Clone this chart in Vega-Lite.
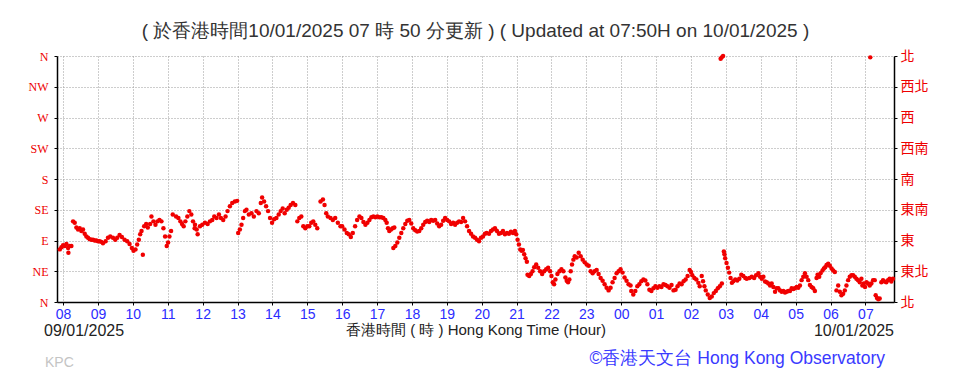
{
  "$schema": "https://vega.github.io/schema/vega-lite/v6.json",
  "width": 837,
  "height": 246,
  "autosize": "none",
  "padding": {"left": 57, "top": 56, "right": 70, "bottom": 82},
  "background": "white",
  "config": {"view": {"stroke": null}},
  "title": {
    "text": "( 於香港時間10/01/2025 07 時 50 分更新 ) ( Updated at 07:50H on 10/01/2025 )",
    "font": "Liberation Sans",
    "fontSize": 19,
    "fontWeight": "normal",
    "color": "#333333",
    "anchor": "middle",
    "offset": 8
  },
  "datasets": {
    "wind": [
      {"h":7.905,"d":77},{"h":7.952,"d":80},{"h":8.0,"d":83},{"h":8.048,"d":82},{"h":8.095,"d":85},{"h":8.143,"d":79},{"h":8.152,"d":72},{"h":8.19,"d":82},{"h":8.238,"d":82},
      {"h":8.286,"d":118},{"h":8.333,"d":116},{"h":8.381,"d":109},{"h":8.429,"d":106},{"h":8.476,"d":108},{"h":8.524,"d":104},{"h":8.571,"d":106},{"h":8.619,"d":100},{"h":8.667,"d":96},{"h":8.714,"d":94},{"h":8.762,"d":92},{"h":8.81,"d":91},{"h":8.857,"d":91},{"h":8.905,"d":90},{"h":8.952,"d":90},{"h":9.0,"d":89},{"h":9.048,"d":89},{"h":9.095,"d":88},{"h":9.143,"d":86},{"h":9.219,"d":89},{"h":9.286,"d":94},{"h":9.352,"d":96},{"h":9.429,"d":94},{"h":9.495,"d":91},{"h":9.552,"d":94},{"h":9.619,"d":98},{"h":9.686,"d":95},{"h":9.762,"d":91},{"h":9.838,"d":89},{"h":9.905,"d":85},{"h":9.971,"d":79},{"h":10.019,"d":75},{"h":10.076,"d":77},{"h":10.124,"d":84},{"h":10.171,"d":91},{"h":10.21,"d":99},{"h":10.248,"d":104},{"h":10.286,"d":69},{"h":10.324,"d":111},{"h":10.381,"d":114},{"h":10.429,"d":109},{"h":10.495,"d":114},{"h":10.533,"d":125},{"h":10.59,"d":118},{"h":10.648,"d":113},{"h":10.705,"d":118},{"h":10.762,"d":120},{"h":10.819,"d":118},{"h":10.876,"d":108},{"h":10.924,"d":96},{"h":10.971,"d":82},{"h":11.01,"d":87},{"h":11.048,"d":96},{"h":11.095,"d":104},{"h":11.143,"d":128},{"h":11.238,"d":125},{"h":11.305,"d":123},{"h":11.362,"d":118},{"h":11.41,"d":114},{"h":11.457,"d":111},{"h":11.505,"d":118},{"h":11.562,"d":125},{"h":11.619,"d":133},{"h":11.676,"d":128},{"h":11.724,"d":118},{"h":11.771,"d":108},
      {"h":11.781,"d":113},{"h":11.829,"d":106},{"h":11.857,"d":99},{"h":11.924,"d":111},{"h":11.99,"d":113},{"h":12.067,"d":116},{"h":12.143,"d":114},{"h":12.21,"d":118},{"h":12.276,"d":120},{"h":12.333,"d":125},{"h":12.4,"d":123},{"h":12.467,"d":128},{"h":12.524,"d":123},{"h":12.59,"d":120},{"h":12.657,"d":125},{"h":12.714,"d":133},{"h":12.781,"d":140},{"h":12.848,"d":145},{"h":12.924,"d":147},{"h":12.99,"d":148},{"h":13.019,"d":101},{"h":13.067,"d":106},{"h":13.114,"d":113},{"h":13.162,"d":123},{"h":13.21,"d":133},{"h":13.257,"d":135},{"h":13.324,"d":128},{"h":13.4,"d":130},{"h":13.467,"d":125},{"h":13.543,"d":133},{"h":13.61,"d":130},{"h":13.667,"d":145},{"h":13.705,"d":153},{"h":13.762,"d":147},{"h":13.819,"d":140},{"h":13.876,"d":133},{"h":13.933,"d":123},{"h":13.99,"d":116},{"h":14.048,"d":121},{"h":14.114,"d":123},{"h":14.181,"d":128},{"h":14.238,"d":133},{"h":14.295,"d":137},{"h":14.352,"d":130},{"h":14.41,"d":135},{"h":14.467,"d":138},{"h":14.524,"d":142},{"h":14.59,"d":145},{"h":14.657,"d":142},{"h":14.714,"d":118},{"h":14.771,"d":123},{"h":14.829,"d":125},{"h":14.886,"d":111},{"h":14.943,"d":108},{"h":15.0,"d":111},{"h":15.057,"d":111},{"h":15.114,"d":116},{"h":15.171,"d":118},{"h":15.229,"d":113},{"h":15.286,"d":108},{"h":15.38,"d":147},{"h":15.448,"d":150},{"h":15.495,"d":142},{"h":15.543,"d":130},{"h":15.59,"d":125},{"h":15.667,"d":123},{"h":15.733,"d":120},{"h":15.8,"d":123},{"h":15.876,"d":116},{"h":15.952,"d":111},
      {"h":16.0,"d":111},{"h":16.067,"d":106},{"h":16.133,"d":101},{"h":16.19,"d":99},{"h":16.248,"d":95},{"h":16.305,"d":101},{"h":16.371,"d":111},{"h":16.429,"d":120},{"h":16.495,"d":125},{"h":16.552,"d":123},{"h":16.61,"d":117},{"h":16.667,"d":113},{"h":16.724,"d":116},{"h":16.781,"d":120},{"h":16.838,"d":124},{"h":16.895,"d":125},{"h":16.952,"d":124},{"h":17.01,"d":125},{"h":17.067,"d":124},{"h":17.124,"d":124},{"h":17.181,"d":123},{"h":17.238,"d":120},{"h":17.276,"d":116},{"h":17.314,"d":108},{"h":17.352,"d":104},{"h":17.4,"d":106},{"h":17.448,"d":108},{"h":17.495,"d":109},{"h":17.467,"d":79},{"h":17.524,"d":82},{"h":17.581,"d":87},{"h":17.638,"d":94},{"h":17.695,"d":101},{"h":17.752,"d":108},{"h":17.81,"d":114},{"h":17.867,"d":119},{"h":17.924,"d":120},{"h":17.981,"d":115},{"h":18.038,"d":108},{"h":18.095,"d":105},{"h":18.152,"d":103},{"h":18.21,"d":104},{"h":18.267,"d":108},{"h":18.324,"d":113},{"h":18.381,"d":117},{"h":18.438,"d":119},{"h":18.495,"d":117},{"h":18.552,"d":120},{"h":18.61,"d":119},{"h":18.667,"d":120},{"h":18.724,"d":115},{"h":18.781,"d":111},{"h":18.838,"d":113},{"h":18.895,"d":119},{"h":18.952,"d":123},{"h":19.01,"d":120},{"h":19.067,"d":118},{"h":19.124,"d":114},{"h":19.181,"d":116},{"h":19.238,"d":113},{"h":19.295,"d":116},{"h":19.352,"d":118},{"h":19.41,"d":117},{"h":19.467,"d":123},{"h":19.524,"d":118},{"h":19.581,"d":111},{"h":19.638,"d":104},{"h":19.695,"d":100},{"h":19.752,"d":96},{"h":19.81,"d":94},{"h":19.867,"d":91},{"h":19.924,"d":89},{"h":19.981,"d":94},{"h":20.038,"d":96},{"h":20.095,"d":100},
      {"h":20.143,"d":101},{"h":20.21,"d":100},{"h":20.267,"d":104},{"h":20.324,"d":106},{"h":20.381,"d":108},{"h":20.438,"d":104},{"h":20.495,"d":100},{"h":20.552,"d":101},{"h":20.61,"d":104},{"h":20.667,"d":99},{"h":20.724,"d":101},{"h":20.781,"d":100},{"h":20.838,"d":103},{"h":20.895,"d":101},{"h":20.952,"d":104},{"h":20.99,"d":99},{"h":21.029,"d":91},{"h":21.067,"d":84},{"h":21.105,"d":77},{"h":21.143,"d":75},{"h":21.181,"d":76},{"h":21.219,"d":70},{"h":21.257,"d":64},{"h":21.295,"d":59},{"h":21.314,"d":40},{"h":21.362,"d":38},{"h":21.41,"d":41},{"h":21.457,"d":45},{"h":21.505,"d":51},{"h":21.562,"d":55},{"h":21.619,"d":50},{"h":21.676,"d":45},{"h":21.733,"d":41},{"h":21.79,"d":45},{"h":21.848,"d":48},{"h":21.905,"d":50},{"h":21.962,"d":45},{"h":22.0,"d":38},{"h":22.038,"d":29},{"h":22.076,"d":26},{"h":22.114,"d":33},{"h":22.171,"d":41},{"h":22.229,"d":45},{"h":22.286,"d":48},{"h":22.343,"d":45},{"h":22.4,"d":36},{"h":22.438,"d":31},{"h":22.476,"d":29},{"h":22.514,"d":33},{"h":22.552,"d":45},{"h":22.59,"d":55},{"h":22.629,"d":62},{"h":22.667,"d":67},{"h":22.724,"d":65},{"h":22.781,"d":72},{"h":22.838,"d":67},{"h":22.895,"d":62},{"h":22.952,"d":58},{"h":23.01,"d":55},{"h":23.067,"d":53},{"h":23.124,"d":45},{"h":23.181,"d":42},{"h":23.238,"d":45},{"h":23.295,"d":47},{"h":23.352,"d":41},{"h":23.41,"d":35},{"h":23.467,"d":31},{"h":23.524,"d":26},{"h":23.581,"d":21},{"h":23.638,"d":17},{"h":23.695,"d":21},{"h":23.752,"d":29},{"h":23.81,"d":35},{"h":23.867,"d":42},{"h":23.924,"d":45},{"h":23.981,"d":48},{"h":24.038,"d":43},{"h":24.095,"d":36},{"h":24.152,"d":31},{"h":24.21,"d":26},{"h":24.267,"d":24},
      {"h":24.288,"d":16},{"h":24.346,"d":11},{"h":24.404,"d":16},{"h":24.462,"d":23},{"h":24.519,"d":26},{"h":24.577,"d":30.5},{"h":24.635,"d":33},{"h":24.692,"d":31.5},{"h":24.75,"d":26},{"h":24.808,"d":18},{"h":24.865,"d":16},{"h":24.923,"d":20},{"h":24.98,"d":23},{"h":25.038,"d":21},{"h":25.096,"d":23},{"h":25.154,"d":22},{"h":25.212,"d":26},{"h":25.27,"d":25},{"h":25.327,"d":23},{"h":25.385,"d":21},{"h":25.442,"d":25},{"h":25.5,"d":17},{"h":25.558,"d":18},{"h":25.615,"d":23},{"h":25.673,"d":27},{"h":25.731,"d":26},{"h":25.788,"d":30.5},{"h":25.846,"d":33},{"h":25.904,"d":38},{"h":25.962,"d":47},{"h":26.0,"d":44},{"h":26.038,"d":39},{"h":26.096,"d":35},{"h":26.154,"d":33},{"h":26.212,"d":28},{"h":26.25,"d":23},{"h":26.308,"d":38},{"h":26.346,"d":30.5},{"h":26.385,"d":23},{"h":26.423,"d":17},{"h":26.481,"d":11},{"h":26.538,"d":6},{"h":26.596,"d":8},{"h":26.654,"d":13},{"h":26.712,"d":16},{"h":26.769,"d":20},{"h":26.827,"d":23},{"h":26.885,"d":27},{"h":26.85,"d":356},{"h":26.88,"d":358},{"h":26.92,"d":360},{"h":26.942,"d":74},{"h":26.96,"d":70},{"h":26.98,"d":64},{"h":27.019,"d":57},{"h":27.058,"d":50},{"h":27.096,"d":43},{"h":27.135,"d":35},{"h":27.173,"d":28},{"h":27.212,"d":30.5},{"h":27.269,"d":33},{"h":27.327,"d":31.5},{"h":27.385,"d":34},{"h":27.442,"d":40},{"h":27.5,"d":38},{"h":27.558,"d":35},
      {"h":27.6,"d":34},{"h":27.676,"d":35},{"h":27.743,"d":37},{"h":27.81,"d":35},{"h":27.867,"d":39},{"h":27.933,"d":42},{"h":27.981,"d":37},{"h":28.03,"d":34},{"h":28.076,"d":37},{"h":28.124,"d":30},{"h":28.171,"d":29},{"h":28.22,"d":27},{"h":28.267,"d":24},{"h":28.314,"d":27},{"h":28.362,"d":22},{"h":28.41,"d":15},{"h":28.457,"d":20},{"h":28.505,"d":20},{"h":28.552,"d":17},{"h":28.6,"d":15},{"h":28.648,"d":16},{"h":28.695,"d":14},{"h":28.743,"d":15},{"h":28.79,"d":16},{"h":28.838,"d":16},{"h":28.886,"d":20},{"h":28.933,"d":19},{"h":28.98,"d":20},{"h":29.03,"d":22},{"h":29.076,"d":21},{"h":29.124,"d":24},{"h":29.171,"d":32},{"h":29.22,"d":37},{"h":29.267,"d":42},{"h":29.314,"d":37},{"h":29.362,"d":32},{"h":29.41,"d":25},{"h":29.457,"d":22},{"h":29.505,"d":20},{"h":29.552,"d":16},{"h":29.6,"d":35},{"h":29.629,"d":40},{"h":29.676,"d":37},{"h":29.714,"d":42},{"h":29.771,"d":46},{"h":29.81,"d":49},{"h":29.848,"d":51},{"h":29.886,"d":54},{"h":29.933,"d":56},{"h":29.98,"d":53},{"h":30.03,"d":49},{"h":30.076,"d":46},{"h":30.124,"d":44},{"h":30.171,"d":17},{"h":30.22,"d":24},{"h":30.267,"d":15},{"h":30.314,"d":10},{"h":30.362,"d":12},{"h":30.41,"d":17},{"h":30.457,"d":24},{"h":30.505,"d":32},{"h":30.552,"d":37},{"h":30.6,"d":39},{"h":30.648,"d":39},{"h":30.695,"d":37},{"h":30.743,"d":34},{"h":30.79,"d":32},{"h":30.838,"d":29},{"h":30.886,"d":34},{"h":30.914,"d":24},{"h":30.952,"d":27},{"h":30.99,"d":22},{"h":31.03,"d":29},{"h":31.076,"d":27},{"h":31.124,"d":24},{"h":31.14,"d":358},{"h":31.171,"d":27},{"h":31.22,"d":32},{"h":31.267,"d":32},{"h":31.295,"d":10},{"h":31.333,"d":6},{"h":31.371,"d":4},{"h":31.41,"d":5},{"h":31.457,"d":29},{"h":31.505,"d":32},{"h":31.552,"d":30},{"h":31.6,"d":29},{"h":31.648,"d":32},{"h":31.695,"d":34},{"h":31.743,"d":30},{"h":31.79,"d":34}
    ],
    "leftNote": [{"label": "09/01/2025", "h": 7.825, "d": 0}],
    "rightNote": [{"label": "10/01/2025", "h": 31.82, "d": 0}],
    "kpc": [{"label": "KPC", "h": 7.825, "d": 0}],
    "credit": [{"label": "©香港天文台 Hong Kong Observatory", "h": 31.82, "d": 0}]
  },
  "layer": [
    {
      "data": {"name": "wind"},
      "mark": {"type": "point", "filled": true, "shape": "circle", "size": 20, "color": "#f00000", "opacity": 1},
      "encoding": {
        "x": {
          "field": "h", "type": "quantitative",
          "scale": {"domain": [7.825, 31.82], "nice": false, "zero": false},
          "axis": {
            "orient": "bottom",
            "values": [8,9,10,11,12,13,14,15,16,17,18,19,20,21,22,23,24,25,26,27,28,29,30,31],
            "labelExpr": "(datum.value % 24) < 10 ? '0' + (datum.value % 24) : '' + (datum.value % 24)",
            "labelColor": "#2b2bff", "labelFont": "Liberation Sans", "labelFontSize": 14, "labelPadding": 2,
            "labelFlush": false,
            "domainColor": "#000000", "domainWidth": 1.5,
            "ticks": true, "tickColor": "#000000", "tickSize": 3,
            "grid": true, "gridColor": "#9a9a9a", "gridDash": [1, 2], "gridWidth": 1,
            "title": "香港時間 ( 時 ) Hong Kong Time (Hour)",
            "titleFont": "Liberation Sans", "titleFontSize": 15, "titleFontWeight": "normal", "titleColor": "#222222", "titlePadding": 1
          }
        },
        "y": {
          "field": "d", "type": "quantitative",
          "scale": {"domain": [0, 360], "nice": false, "zero": false},
          "axis": {
            "orient": "left",
            "values": [0,45,90,135,180,225,270,315,360],
            "labelExpr": "['N','NE','E','SE','S','SW','W','NW','N'][round(datum.value/45)]",
            "labelColor": "#ee0000", "labelFont": "Liberation Serif", "labelFontSize": 12, "labelPadding": 6,
            "domainColor": "#000000", "domainWidth": 1.5,
            "ticks": true, "tickColor": "#000000", "tickSize": 3,
            "grid": true, "gridColor": "#9a9a9a", "gridDash": [1, 2], "gridWidth": 1,
            "title": null
          }
        }
      }
    },
    {
      "data": {"name": "wind"},
      "mark": {"type": "point", "opacity": 0},
      "encoding": {
        "x": {"field": "h", "type": "quantitative", "axis": null},
        "y": {
          "field": "d", "type": "quantitative",
          "axis": {
            "orient": "right",
            "values": [0,45,90,135,180,225,270,315,360],
            "labelExpr": "['北','東北','東','東南','南','西南','西','西北','北'][round(datum.value/45)]",
            "labelColor": "#ee0000", "labelFont": "Noto Sans CJK TC", "labelFontSize": 14, "labelPadding": 3,
            "domainColor": "#000000", "domainWidth": 1.5,
            "ticks": true, "tickColor": "#000000", "tickSize": 3,
            "grid": false,
            "title": null
          }
        }
      }
    },
    {
      "data": {"name": "leftNote"},
      "mark": {"type": "text", "align": "left", "baseline": "middle", "dx": -13, "dy": 29, "font": "Liberation Sans", "fontSize": 16, "color": "#222222"},
      "encoding": {
        "x": {"field": "h", "type": "quantitative", "axis": null},
        "y": {"field": "d", "type": "quantitative", "axis": null},
        "text": {"field": "label"}
      }
    },
    {
      "data": {"name": "rightNote"},
      "mark": {"type": "text", "align": "right", "baseline": "middle", "dx": 0, "dy": 29, "font": "Liberation Sans", "fontSize": 16, "color": "#222222"},
      "encoding": {
        "x": {"field": "h", "type": "quantitative", "axis": null},
        "y": {"field": "d", "type": "quantitative", "axis": null},
        "text": {"field": "label"}
      }
    },
    {
      "data": {"name": "kpc"},
      "mark": {"type": "text", "align": "left", "baseline": "middle", "dx": -12, "dy": 61, "font": "Liberation Sans", "fontSize": 14, "color": "#c4c4c4"},
      "encoding": {
        "x": {"field": "h", "type": "quantitative", "axis": null},
        "y": {"field": "d", "type": "quantitative", "axis": null},
        "text": {"field": "label"}
      }
    },
    {
      "data": {"name": "credit"},
      "mark": {"type": "text", "align": "right", "baseline": "middle", "dx": -9, "dy": 57, "font": "Liberation Sans", "fontSize": 17.5, "color": "#3a3aff"},
      "encoding": {
        "x": {"field": "h", "type": "quantitative", "axis": null},
        "y": {"field": "d", "type": "quantitative", "axis": null},
        "text": {"field": "label"}
      }
    }
  ],
  "resolve": {"axis": {"x": "independent", "y": "independent"}}
}
